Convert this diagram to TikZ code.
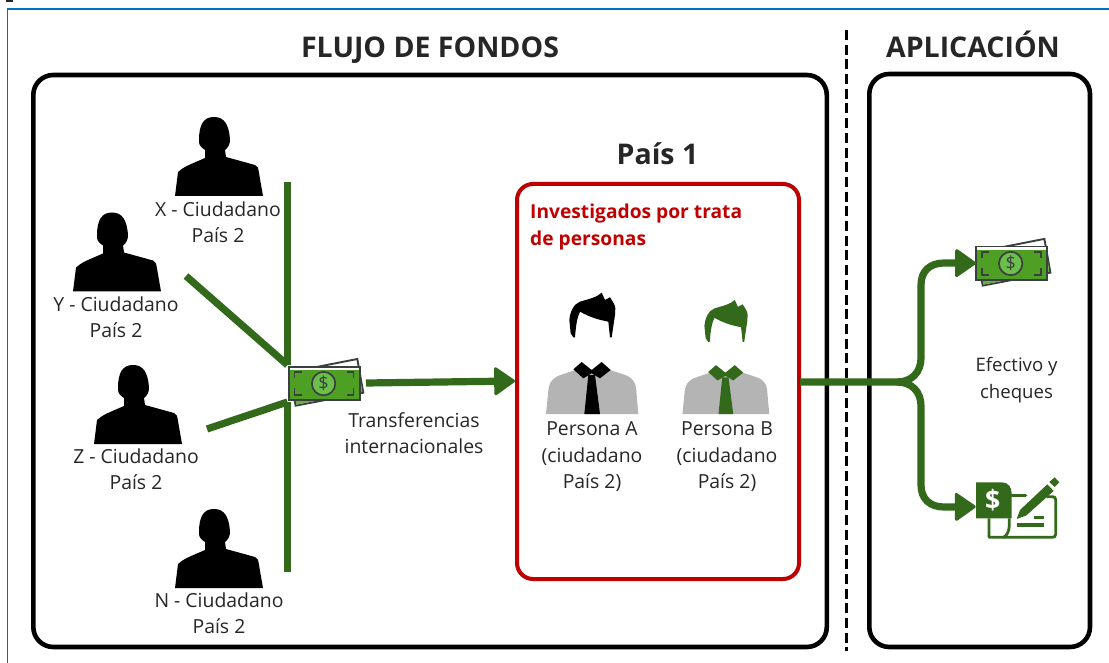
\documentclass[tikz,border=0pt]{standalone}
\usepackage{fontspec}
\setmainfont{Open Sans}
\usetikzlibrary{arrows.meta}
\definecolor{fgreen}{HTML}{33691A}
\definecolor{fred}{HTML}{C00000}
\definecolor{fblue}{HTML}{0070C0}
\definecolor{note}{HTML}{4F9F24}
\definecolor{notel}{HTML}{6CBF4B}
\definecolor{noted}{HTML}{3A3F3F}
\definecolor{fgray}{HTML}{B4B4B4}
\definecolor{ftext}{HTML}{262626}
\tikzset{
  x=1pt,y=-1pt,
  panel/.style={draw=black,line width=4.6pt,rounded corners=20pt,outer sep=0pt,inner sep=0pt,anchor=north west},
  redpanel/.style={draw=fred,line width=4pt,rounded corners=16pt,outer sep=0pt,inner sep=0pt,anchor=north west},
  flow/.style={draw=fgreen,line width=7.2pt},
  flowtip/.style={flow,-{Triangle[length=22pt,width=30pt,line join=round,line width=3pt,fill=fgreen]}},
  label/.style={font=\fontsize{19.4}{26.5}\selectfont,text=ftext,align=center,inner sep=0pt},
  heading/.style={font=\fontsize{28.5}{32}\selectfont\bfseries,text=ftext,inner sep=0pt,anchor=base},
  anchorbox/.style={inner sep=0pt,minimum width=71pt,minimum height=34pt},
  silhouette/.pic={
    \fill[black] (-44,0) -- (-41,-24) .. controls (-35,-29) .. (-14,-38) -- (-14,-46)
      .. controls (-20,-50) and (-20,-52) .. (-20,-56) .. controls (-20,-72) and (-15,-79) .. (-5,-79)
      .. controls (5,-79) and (10,-72) .. (11,-56) .. controls (11,-52) and (9,-48) .. (6,-46)
      -- (7,-39) -- (36,-31) .. controls (39,-29) .. (40,-23) -- (44,0) -- cycle;
  },
  banknote/.pic={
    \draw[noted,line width=1.9pt,fill=white] (32.7,-24.3) -- (38.7,9.4) -- (-29,22.4) -- (-35,-11) -- cycle;
    \fill[note!85!white] (34.5,-15) -- (37.7,8.6) -- (-28.2,21.4) -- (-30,12) -- cycle;
    \draw[noted,line width=1.9pt,fill=note] (-35.5,-16.7) rectangle (35.5,16.7);
    \fill[white] (-34.5,-15.7) rectangle (34.5,-13);
    \draw[noted,line width=1.7pt] (-30,-5) -- (-30,-11) -- (-23,-11);
    \draw[noted,line width=1.7pt] (29,-5) -- (29,-11) -- (22,-11);
    \draw[noted,line width=1.7pt] (-30,5) -- (-30,11.5) -- (-23,11.5);
    \draw[noted,line width=1.7pt] (29,5) -- (29,11.5) -- (22,11.5);
    \draw[noted,line width=1.7pt,fill=notel] (-1,0.3) circle (11.7);
    \node[text=noted,font=\fontsize{18}{18}\selectfont,inner sep=0pt] at (-1,0.3) {\$};
  },
  personicon/.pic={
    \fill[fgray] (-138,0) -- (-130,-80) .. controls (-125,-100) and (-115,-108) .. (-100,-115)
      -- (-50,-132) -- (55,-132) -- (105,-115) .. controls (120,-108) and (130,-95) .. (132,-80) -- (139,0) -- cycle;
    \fill[pic actions] (-56,-134) -- (-31,-156) -- (-1,-132) -- (29,-156) -- (56,-132) -- (24,-107) -- (-1,-122) -- (-26,-107) -- cycle;
    \fill[pic actions] (-11,-117) -- (9,-117) -- (24,0) -- (-23,0) -- cycle;
    \fill[pic actions] (-56,-230) -- (-64,-242) -- (-68,-282) .. controls (-66,-305) and (-56,-330) .. (-36,-337)
      .. controls (-10,-345) and (15,-350) .. (29,-364) -- (39,-342) -- (54,-350)
      .. controls (64,-335) and (70,-325) .. (70,-317) -- (69,-297) -- (59,-230) -- (54,-230) -- (49,-277)
      .. controls (25,-282) and (0,-287) .. (-36,-307) .. controls (-44,-290) and (-48,-270) .. (-51,-230) -- cycle;
  },
  chequeicon/.pic={
    \fill[fgreen] (258,97) -- (335,97) .. controls (355,97) and (365,112) .. (365,130) -- (365,205) -- (258,205) -- cycle;
    \node[text=white,font=\fontsize{80}{80}\selectfont\bfseries,inner sep=0pt] at (308,150) {\$};
    \draw[fgreen,line width=2.8pt,line join=round] (297,205) -- (297,262) -- (340,262) .. controls (352,258) and (358,240) .. (358,225) -- (358,205);
    \draw[fgreen,line width=2.8pt,rounded corners=3pt] (340,262) -- (497,262) -- (497,140) -- (470,140);
    \draw[fgreen,line width=3.2pt,line cap=round] (365,137) -- (407,137);
    \draw[fgreen,line width=3.2pt] (380,225) -- (463,225);
    \draw[fgreen,line width=3.2pt] (432,203) -- (463,203);
    \fill[fgreen] (380,207) -- (390,180) -- (472,103) -- (491,123) -- (408,197) -- cycle;
    \fill[fgreen] (478,96) -- (494,82) -- (508,97) -- (494,111) -- cycle;
  }
}
\begin{document}
\begin{tikzpicture}
\useasboundingbox (0,0) rectangle (1109,663);
% outer frame
\draw[fblue,line width=1.6pt] (7.4,663) -- (7.4,8.8) -- (1109,8.8);
\fill[ftext] (6,0) rectangle (13,2.5);
% panels
\node[panel,minimum width=793.5pt,minimum height=572pt] (flujo) at (33.3,75) {};
\node[panel,minimum width=220.7pt,minimum height=573pt] (aplic) at (869.3,74) {};
\node[redpanel,minimum width=282pt,minimum height=395pt] (red) at (517,184) {};
\coordinate (dashtop) at (846,30);
\coordinate (dashbot) at (846,651);
\draw[black,line width=3pt,dash pattern=on 10pt off 4.7pt] (dashtop) -- (dashbot);
% headings
\node[heading] (t1) at (430,58) {FLUJO DE FONDOS};
\node[heading] (t2) at (973,58) {APLICACIÓN};
\node[heading] (t3) at (657.5,165) {País 1};
\node[font=\fontsize{19.2}{26.5}\selectfont\bfseries,text=fred,align=left,inner sep=0pt,anchor=north west] (inv) at (530,204) {Investigados por trata\\de personas};
% silhouettes
\pic at (219,196) {silhouette};
\pic at (117,291.5) {silhouette};
\pic at (138,444) {silhouette};
\pic at (219,588) {silhouette};
\node[label] (lx) at (218,222) {X - Ciudadano\\País 2};
\node[label] (ly) at (116,317) {Y - Ciudadano\\País 2};
\node[label] (lz) at (136,469) {Z - Ciudadano\\País 2};
\node[label] (ln) at (219,613) {N - Ciudadano\\País 2};
% collector lines
\coordinate (vtop) at (287.5,182);
\coordinate (vbot) at (287.5,572);
\coordinate (hub1) at (287.5,365);
\coordinate (hub2) at (287.5,402);
\coordinate (yend) at (186,276);
\coordinate (zend) at (207,429);
\draw[flow] (vtop) -- (hub1);
\draw[flow] (hub2) -- (vbot);
\draw[flow] (yend) -- (hub1);
\draw[flow] (zend) -- (hub2);
% banknote at the hub
\node[anchorbox] (cash1) at (324.6,383.3) {};
\pic at (cash1.center) {banknote};
\node[label] (ltr) at (414,433) {Transferencias\\internacionales};
\coordinate (start1) at (366,383);
\coordinate (redwest) at (515,381);
\draw[flowtip] (start1) -- (redwest);
% persons
\begin{scope}[shift={(592,414)},scale=0.3333]
\pic[fill=black,transform shape] at (0,0) {personicon};
\end{scope}
\begin{scope}[shift={(725.7,414)},scale=0.3133]
\pic[fill=fgreen,transform shape] at (0,0) {personicon};
\end{scope}
\node[label] (pa) at (592,457) {Persona A\\(ciudadano\\País 2)};
\node[label] (pb) at (727,457) {Persona B\\(ciudadano\\País 2)};
% application
\node[anchorbox] (cash2) at (1011.7,263.2) {};
\pic at (cash2.center) {banknote};
\node[inner sep=0pt,minimum width=1pt,minimum height=36pt] (cheq) at (975.7,506.7) {};
\begin{scope}[shift={(890,450)},scale=0.3333]
\pic[transform shape] at (0,0) {chequeicon};
\end{scope}
\coordinate (rede) at (800,382);
\draw[flowtip] (rede) -- (897,382) .. controls (912,382) and (921,372) .. (921,358) -- (921,285)
  .. controls (921,271) and (930,263) .. (944,263) -- (cash2.west);
\draw[flowtip] (897,382) .. controls (912,382) and (921,392) .. (921,406) -- (921,485)
  .. controls (921,499) and (930,507) .. (944,507) -- (cheq.center);
\node[label,font=\fontsize{18.6}{26.5}\selectfont] (lef) at (1016.5,380) {Efectivo y\\cheques};
\end{tikzpicture}
\end{document}
